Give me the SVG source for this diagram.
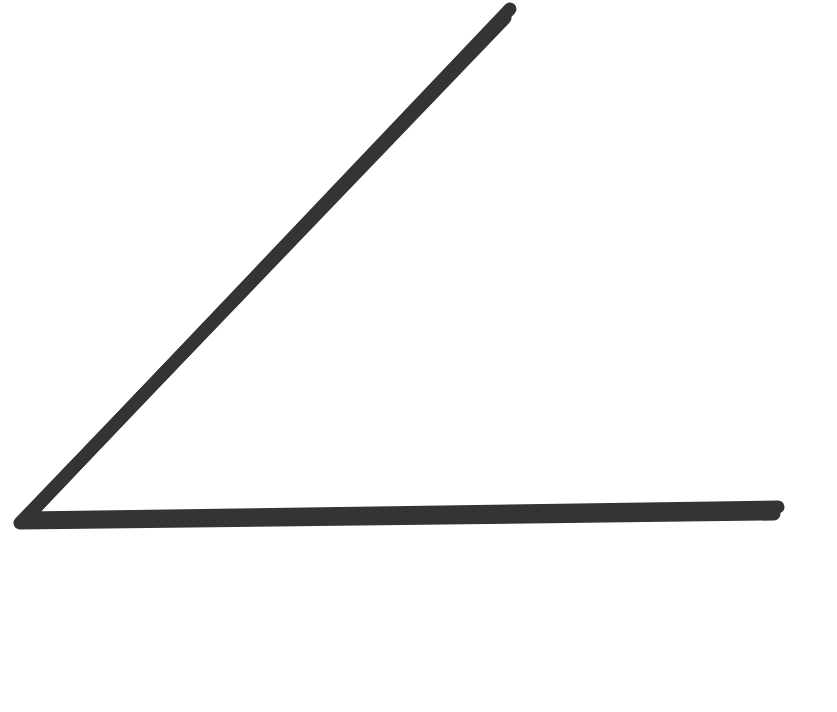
<svg xmlns="http://www.w3.org/2000/svg" width="837" height="712" viewBox="0 0 837 712">
<style>
.s{fill:none;stroke:#343434;stroke-width:13;stroke-linecap:round;stroke-linejoin:round}
</style>
<rect width="837" height="712" fill="#fff"/>
<g id="angle">
<path class="s" d="M510,9 L26,518 L778,507"/>
<path class="s" d="M505,18 L20,523 L774,514"/>
</g>
</svg>
